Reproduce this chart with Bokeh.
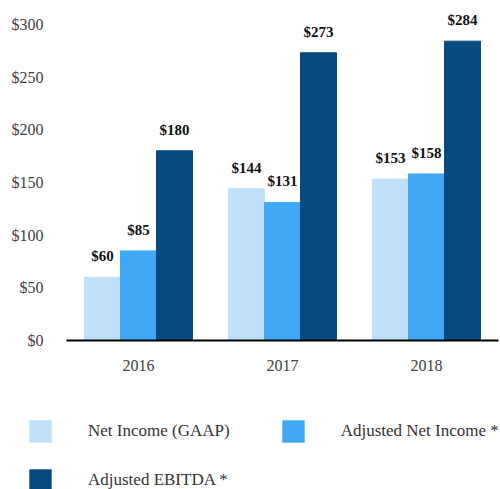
from bokeh.plotting import figure
from bokeh.models import (ColumnDataSource, FactorRange, Range1d, FixedTicker,
                          NumeralTickFormatter, Legend, LegendItem)
from bokeh.transform import dodge
from bokeh.embed import file_html
from bokeh.resources import INLINE
from bokeh.core.properties import value

# ---- data ----
years = ["2016", "2017", "2018"]
net_income = [60, 144, 153]
adj_net_income = [85, 131, 158]
adj_ebitda = [180, 273, 284]
series_names = ["Net Income (GAAP)", "Adjusted Net Income *", "Adjusted EBITDA *"]
y_ticks = [0, 50, 100, 150, 200, 250, 300]

colors = ["#bfe0fa", "#3fa9f5", "#064a80"]
FONT = "Liberation Serif"

src = ColumnDataSource(dict(
    years=years,
    net=net_income, adj=adj_net_income, ebitda=adj_ebitda,
    net_lbl=["$%d" % v for v in net_income],
    adj_lbl=["$%d" % v for v in adj_net_income],
    ebitda_lbl=["$%d" % v for v in adj_ebitda],
))

p = figure(width=500, height=380, x_range=FactorRange(*years), y_range=Range1d(0, 315),
           output_backend="svg", toolbar_location=None,
           min_border_left=66, min_border_right=2, min_border_top=8, min_border_bottom=40)

fields = [("net", "net_lbl", -0.25), ("adj", "adj_lbl", 0.0), ("ebitda", "ebitda_lbl", 0.25)]
for (f, lf, off), c in zip(fields, colors):
    p.vbar(x=dodge("years", off, range=p.x_range), top=f, width=0.25, source=src,
           fill_color=c, line_color=c)
    p.text(x=dodge("years", off, range=p.x_range), y=f, text=lf, source=src,
           text_align="center", text_baseline="middle", y_offset=-21,
           text_font=value(FONT), text_font_style="bold", text_font_size="15px",
           text_color="#111111")

# axes
p.yaxis.ticker = FixedTicker(ticks=y_ticks)
p.yaxis.formatter = NumeralTickFormatter(format="$0")
p.yaxis.axis_line_color = None
p.yaxis.major_tick_line_color = None
p.yaxis.minor_tick_line_color = None
p.yaxis.major_label_standoff = 17
p.yaxis.major_label_text_font = FONT
p.yaxis.major_label_text_font_size = "16px"
p.yaxis.major_label_text_color = "#404040"

p.xaxis.axis_line_color = "#000000"
p.xaxis.axis_line_width = 2
p.xaxis.major_tick_line_color = None
p.xaxis.minor_tick_line_color = None
p.xaxis.major_label_standoff = 13
p.xaxis.major_label_text_font = FONT
p.xaxis.major_label_text_font_size = "16px"
p.xaxis.major_label_text_color = "#404040"

p.xgrid.grid_line_color = None
p.ygrid.grid_line_color = None
p.outline_line_color = None

# ---- legend panel (separate root; its bars are shifted far outside the visible area) ----
lg = figure(width=500, height=109, output_backend="svg", toolbar_location=None,
            x_axis_type=None, y_axis_type=None, min_border=0,
            x_range=FactorRange(*years), y_range=Range1d(-20, -10))
lg.outline_line_color = None
lr = []
for (f, lf, off), c in zip(fields, colors):
    lr.append(lg.vbar(x=dodge("years", 10, range=lg.x_range), top=f, width=0.25, source=src,
                      fill_color=c, line_color=None))

common = dict(padding=0, margin=0, glyph_width=28, glyph_height=28, label_standoff=34,
              label_text_font=FONT, label_text_font_size="17px", label_text_color="#333333",
              border_line_color=None, background_fill_alpha=0)
leg1 = Legend(items=[LegendItem(label=series_names[0], renderers=[lr[0]]),
                     LegendItem(label=series_names[1], renderers=[lr[1]])],
              orientation="horizontal", spacing=49, location=(26, 44), **common)
leg2 = Legend(items=[LegendItem(label=series_names[2], renderers=[lr[2]])],
              orientation="horizontal", location=(26, -5), **common)
lg.add_layout(leg1)
lg.add_layout(leg2)

open("out.html", "w").write(file_html([p, lg], INLINE))
